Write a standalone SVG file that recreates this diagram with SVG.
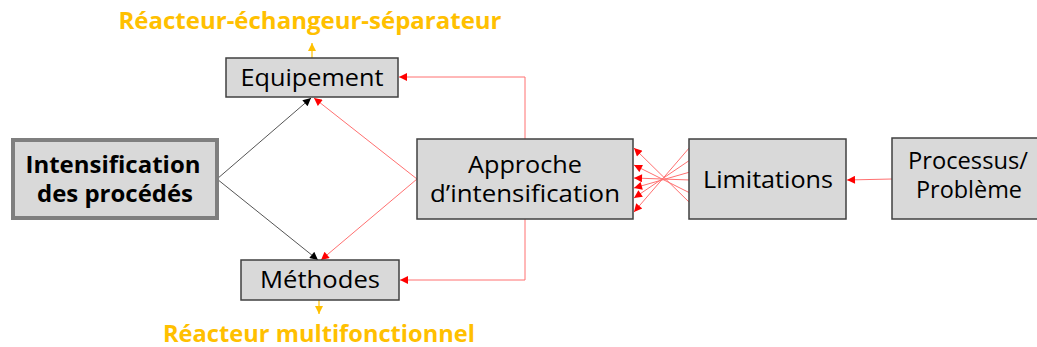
<svg xmlns="http://www.w3.org/2000/svg" width="1037" height="347" viewBox="0 0 1037 347">
<defs>
<marker id="ar" viewBox="0 0 10 10" refX="10" refY="5" markerWidth="10" markerHeight="8" markerUnits="userSpaceOnUse" orient="auto"><path d="M0,0 L10,5 L0,10 z" fill="#ff0000"/></marker>
<marker id="ab" viewBox="0 0 10 10" refX="10" refY="5" markerWidth="10" markerHeight="8" markerUnits="userSpaceOnUse" orient="auto"><path d="M0,0 L10,5 L0,10 z" fill="#000"/></marker>
<marker id="ay" viewBox="0 0 10 10" refX="10" refY="5" markerWidth="8" markerHeight="8" markerUnits="userSpaceOnUse" orient="auto"><path d="M0,0 L10,5 L0,10 z" fill="#ffc000"/></marker>
</defs>
<style>
.box{fill:#d9d9d9;stroke:#404040;stroke-width:1.5}
.main{fill:#d9d9d9;stroke:#7f7f7f;stroke-width:4}
.t{font-family:"Open Sans","Liberation Sans",sans-serif;font-size:24px;fill:#000;text-anchor:middle}
.t2{font-family:"Open Sans","Liberation Sans",sans-serif;font-size:23px;fill:#000;text-anchor:middle}
.tb{font-family:"Open Sans","Liberation Sans",sans-serif;font-size:23px;font-weight:bold;fill:#000;text-anchor:middle}
.ty{font-family:"Open Sans","Liberation Sans",sans-serif;font-size:23px;font-weight:bold;fill:#ffc000;text-anchor:middle}
.r{stroke:#ff7070;stroke-width:1;fill:none;marker-end:url(#ar)}
.k{stroke:#555;stroke-width:1;fill:none;marker-end:url(#ab)}
.y{stroke:#ffc000;stroke-width:1.2;fill:none;marker-end:url(#ay)}
</style>
<g id="connectors">
<line class="k" x1="217" y1="179" x2="311" y2="98"/>
<line class="k" x1="217" y1="179" x2="318" y2="260"/>
<line class="r" x1="417" y1="179" x2="314" y2="98"/>
<line class="r" x1="417" y1="179" x2="321" y2="260"/>
<polyline class="r" points="525,139 525,77 399,77"/>
<polyline class="r" points="525,219 525,280 400,280"/>
<line class="r" x1="892" y1="179" x2="847" y2="180"/>
<line class="r" x1="690" y1="147" x2="634" y2="212"/>
<line class="r" x1="690" y1="160" x2="634" y2="198"/>
<line class="r" x1="690" y1="172" x2="634" y2="188"/>
<line class="r" x1="690" y1="180" x2="634" y2="178"/>
<line class="r" x1="690" y1="193" x2="634" y2="165"/>
<line class="r" x1="690" y1="203" x2="634" y2="148"/>
<line class="y" x1="312" y1="58" x2="312" y2="43"/>
<line class="y" x1="319" y1="300" x2="319" y2="314"/>
</g>
<g id="intensification">
<rect class="main" x="13" y="140" width="204" height="78"/>
<text class="tb"><tspan x="113" y="173" textLength="175" lengthAdjust="spacingAndGlyphs">Intensification</tspan><tspan x="115" y="202" textLength="156" lengthAdjust="spacingAndGlyphs">des procédés</tspan></text>
</g>
<g id="equipement">
<rect class="box" x="226" y="58" width="172" height="39"/>
<text class="t" x="312" y="86" textLength="143" lengthAdjust="spacingAndGlyphs">Equipement</text>
</g>
<g id="methodes">
<rect class="box" x="241" y="260" width="158" height="40"/>
<text class="t" x="320" y="288" textLength="120" lengthAdjust="spacingAndGlyphs">Méthodes</text>
</g>
<g id="approche">
<rect class="box" x="417" y="139" width="216" height="80"/>
<text class="t2"><tspan x="525" y="173" textLength="114" lengthAdjust="spacingAndGlyphs">Approche</tspan><tspan x="525" y="202" textLength="190" lengthAdjust="spacingAndGlyphs">d’intensification</tspan></text>
</g>
<g id="limitations">
<rect class="box" x="689" y="139" width="157" height="80"/>
<text class="t" x="768" y="188" textLength="130" lengthAdjust="spacingAndGlyphs">Limitations</text>
</g>
<g id="processus">
<rect class="box" x="892" y="138" width="150" height="81"/>
<text class="t2"><tspan x="968" y="169" textLength="120" lengthAdjust="spacingAndGlyphs">Processus/</tspan><tspan x="969" y="198" textLength="106" lengthAdjust="spacingAndGlyphs">Problème</tspan></text>
</g>
<g id="label-top">
<text class="ty" x="310" y="29" textLength="383" lengthAdjust="spacingAndGlyphs">Réacteur-échangeur-séparateur</text>
</g>
<g id="label-bottom">
<text class="ty" x="319" y="342" textLength="312" lengthAdjust="spacingAndGlyphs">Réacteur multifonctionnel</text>
</g>
</svg>
